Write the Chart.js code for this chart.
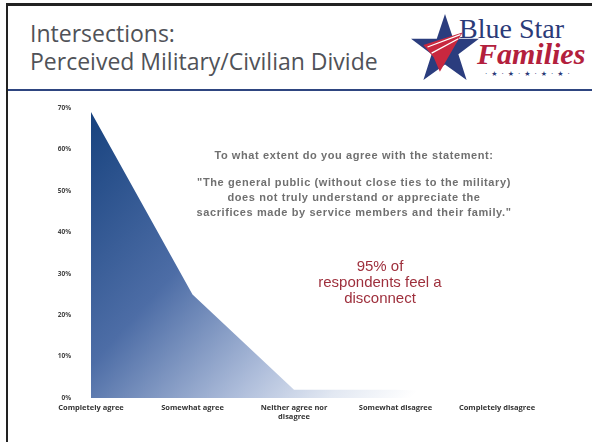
<!DOCTYPE html>
<html>
<head>
<meta charset="utf-8">
<script src="https://cdn.jsdelivr.net/npm/chart.js@4"></script>
<style>
	html, body { margin:0; padding:0; background:#fff; }
	#slide { position:relative; width:592px; height:442px; overflow:hidden; background:#fff; }
	#frame { position:absolute; left:6px; top:3px; width:590px; height:450px; border-left:2px solid #222; border-top:3px solid #222; }
	#rule { position:absolute; left:8px; top:89px; width:584px; height:2px; background:#2e4580; }
	.title { position:absolute; left:30px; font-family:"Open Sans", sans-serif; font-size:23px; color:#505258; white-space:nowrap; }
	#logo-blue { position:absolute; left:459px; top:13px; font-family:"Liberation Serif", serif; font-size:28px; color:#2b3a78; }
	#logo-fam { position:absolute; left:477px; top:37px; font-family:"Liberation Serif", serif; font-style:italic; font-weight:bold; font-size:30px; color:#b3203d; }
	#logo-dots { position:absolute; left:485px; top:70px; font-family:"DejaVu Sans", sans-serif; font-size:7px; color:#2b3a78; letter-spacing:4px; }
	#star { position:absolute; left:407px; top:12px; }
	#chart-wrap { position:absolute; left:0; top:84px; width:592px; height:351px; }
	.note { position:absolute; text-align:center; font-family:"Liberation Sans", Arial, sans-serif; }
	#q1 { left:174px; top:149px; width:360px; font-size:11px; font-weight:bold; color:#707070; letter-spacing:0.6px; }
	#q2 { left:164px; top:175px; width:380px; font-size:11px; font-weight:bold; color:#707070; line-height:15px; letter-spacing:0.6px; }
	#q3 { left:300px; top:258px; width:160px; font-size:15px; color:#9e2f3c; line-height:16px; }
</style>
</head>
<body>
<div id="slide">
	<div id="frame"></div>
	<div id="rule"></div>
	<div class="title" style="top:17px">Intersections:</div>
	<div class="title" style="top:45px">Perceived Military/Civilian Divide</div>
	<svg id="star" width="76" height="72" viewBox="0 0 70 70">
		<polygon points="35,2 43,26 68,26 48,41 56,66 35,51 14,66 22,41 2,26 27,26" fill="#2b3d7e"/>
		<polygon points="14,32 52,20 30,58 24,44" fill="#c8283f"/>
		<path d="M18,34 L50,22 M22,40 L48,26" stroke="#fff" stroke-width="1.2"/>
	</svg>
	<div id="logo-blue">Blue Star</div>
	<div id="logo-fam">Families</div>
	<div id="logo-dots">·★·★·★·★·★·</div>
	<div id="chart-wrap"><canvas id="c" width="592" height="351"></canvas></div>
	<div class="note" id="q1">To what extent do you agree with the statement:</div>
	<div class="note" id="q2">"The general public (without close ties to the military)<br>does not truly understand or appreciate the<br>sacrifices made by service members and their family."</div>
	<div class="note" id="q3">95% of<br>respondents feel a<br>disconnect</div>
</div>
<script>
	// data
	const categories = ['Completely agree', 'Somewhat agree', ['Neither agree nor', 'disagree'], 'Somewhat disagree', 'Completely disagree'];
	const responses = [69, 25, 2, 2, 1];
	const yTicksMax = 70;

	function areaFill(ctx){
		const chart = ctx.chart; const a = chart.chartArea;
		if (!a) return '#3d5f9a';
		const g = chart.ctx.createLinearGradient(a.left, a.top, a.left + 320, a.bottom);
		g.addColorStop(0, '#17427e');
		g.addColorStop(0.4, '#4d6da6');
		g.addColorStop(0.7, '#afbedb');
		g.addColorStop(0.86, '#e2e8f2');
		g.addColorStop(1, '#ffffff');
		return g;
	}

	new Chart(document.getElementById('c'), {
		type:'line',
		data:{ labels:categories, datasets:[{ data:responses, fill:'origin', backgroundColor:areaFill, borderWidth:0, pointRadius:0, tension:0 }] },
		options:{
			responsive:false, animation:false,
			layout:{ padding:{ top:1, right:95, bottom:0, left:0 } },
			plugins:{ legend:{display:false}, tooltip:{enabled:false} },
			scales:{
				x:{ offset:false, grid:{display:false, drawTicks:false}, border:{display:false},
					ticks:{ color:'#333', padding:5, maxRotation:0, autoSkip:false, font:{ family:'Open Sans', size:7.5, weight:'bold' } },
					afterFit(s){ s.height = 37; } },
				y:{ min:0, max:yTicksMax, grid:{display:false, drawTicks:false}, border:{display:false},
					ticks:{ stepSize:10, padding:20, color:'#444', callback:v=> v+'%', font:{ family:'Open Sans', size:6.5, weight:'bold' } },
					afterFit(s){ s.width = 91; } }
			}
		}
	});
</script>
</body>
</html>
